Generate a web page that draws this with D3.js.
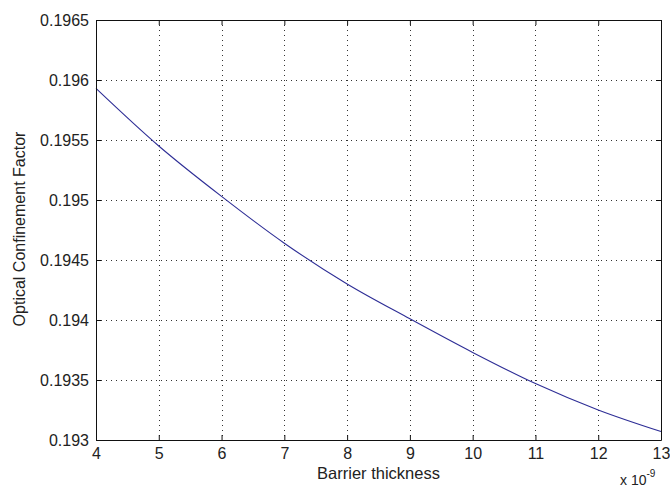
<!DOCTYPE html>
<html>
<head>
<meta charset="utf-8">
<script src="https://cdn.jsdelivr.net/npm/d3@7"></script>
<style>
  html, body { margin: 0; padding: 0; background: #fff; }
  svg { display: block; }
  text { font-family: "Liberation Sans", Arial, sans-serif; fill: #222; }
</style>
</head>
<body>
<svg id="chart" width="670" height="488"></svg>
<script>
// Barrier thickness (units of 1e-9 m) and the optical confinement factor
const thickness = [4, 5, 6, 7, 8, 9, 10, 11, 12, 13];
const confinement = [0.19593, 0.19545, 0.19503, 0.19464, 0.19430,
                     0.19401, 0.19373, 0.19347, 0.19325, 0.19307];
const xTicks = [4, 5, 6, 7, 8, 9, 10, 11, 12, 13];
const yTicks = [0.193, 0.1935, 0.194, 0.1945, 0.195, 0.1955, 0.196, 0.1965];
const yTickLabels = ["0.193", "0.1935", "0.194", "0.1945", "0.195", "0.1955", "0.196", "0.1965"];

const W = 670, H = 488;
const m = { left: 96, right: 9, top: 20, bottom: 48 };
const pw = W - m.left - m.right, ph = H - m.top - m.bottom;

const svg = d3.select("#chart");
const g = svg.append("g").attr("transform", `translate(${m.left},${m.top})`);

const x = d3.scaleLinear().domain([4, 13]).range([0, pw]);
const y = d3.scaleLinear().domain([0.193, 0.1965]).range([ph, 0]);

// dotted grid
const grid = g.append("g").attr("stroke", "#333").attr("stroke-width", 1)
  .attr("stroke-dasharray", "1,4");
grid.selectAll("line.vx").data(xTicks.slice(1, -1)).join("line")
  .attr("x1", d => Math.round(x(d)) + 0.5).attr("x2", d => Math.round(x(d)) + 0.5)
  .attr("y1", 0).attr("y2", ph);
grid.selectAll("line.hy").data(yTicks.slice(1, -1)).join("line")
  .attr("y1", d => Math.round(y(d)) + 0.5).attr("y2", d => Math.round(y(d)) + 0.5)
  .attr("x1", 0).attr("x2", pw);

// data line
const line = d3.line().x((d, i) => x(thickness[i])).y(d => y(d)).curve(d3.curveMonotoneX);
g.append("path").datum(confinement)
  .attr("fill", "none").attr("stroke", "#2e2e96").attr("stroke-width", 1.1)
  .attr("d", line);

// axes with inward ticks on all four sides
const tl = 5;
const fmtY = d => yTickLabels[yTicks.indexOf(d)];
const axB = g.append("g").attr("transform", `translate(0,${ph})`)
  .call(d3.axisBottom(x).tickValues(xTicks).tickSizeInner(-tl).tickSizeOuter(0).tickPadding(8));
const axT = g.append("g")
  .call(d3.axisTop(x).tickValues(xTicks).tickSizeInner(-tl).tickSizeOuter(0).tickFormat(""));
const axL = g.append("g")
  .call(d3.axisLeft(y).tickValues(yTicks).tickSizeInner(-tl).tickSizeOuter(0).tickPadding(7).tickFormat(fmtY));
const axR = g.append("g").attr("transform", `translate(${pw},0)`)
  .call(d3.axisRight(y).tickValues(yTicks).tickSizeInner(-tl).tickSizeOuter(0).tickFormat(""));

[axB, axT, axL, axR].forEach(a => {
  a.select(".domain").attr("stroke", "#111");
  a.selectAll(".tick line").attr("stroke", "#111");
  a.selectAll("text").attr("font-family", "Liberation Sans, Arial, sans-serif")
    .attr("font-size", 16).attr("fill", "#222");
});

// axis labels
svg.append("text")
  .attr("x", m.left + pw / 2).attr("y", 479)
  .attr("text-anchor", "middle").attr("font-size", 16.5)
  .text("Barrier thickness");

svg.append("text")
  .attr("transform", `translate(25,${m.top + ph / 2 - 1}) rotate(-90)`)
  .attr("text-anchor", "middle").attr("font-size", 16)
  .text("Optical Confinement Factor");

// exponent note for the x axis
const ex = svg.append("text").attr("x", 620).attr("y", 485).attr("font-size", 14);
ex.append("tspan").text("x 10");
ex.append("tspan").attr("dy", -8).attr("font-size", 10).text("-9");
</script>
</body>
</html>
